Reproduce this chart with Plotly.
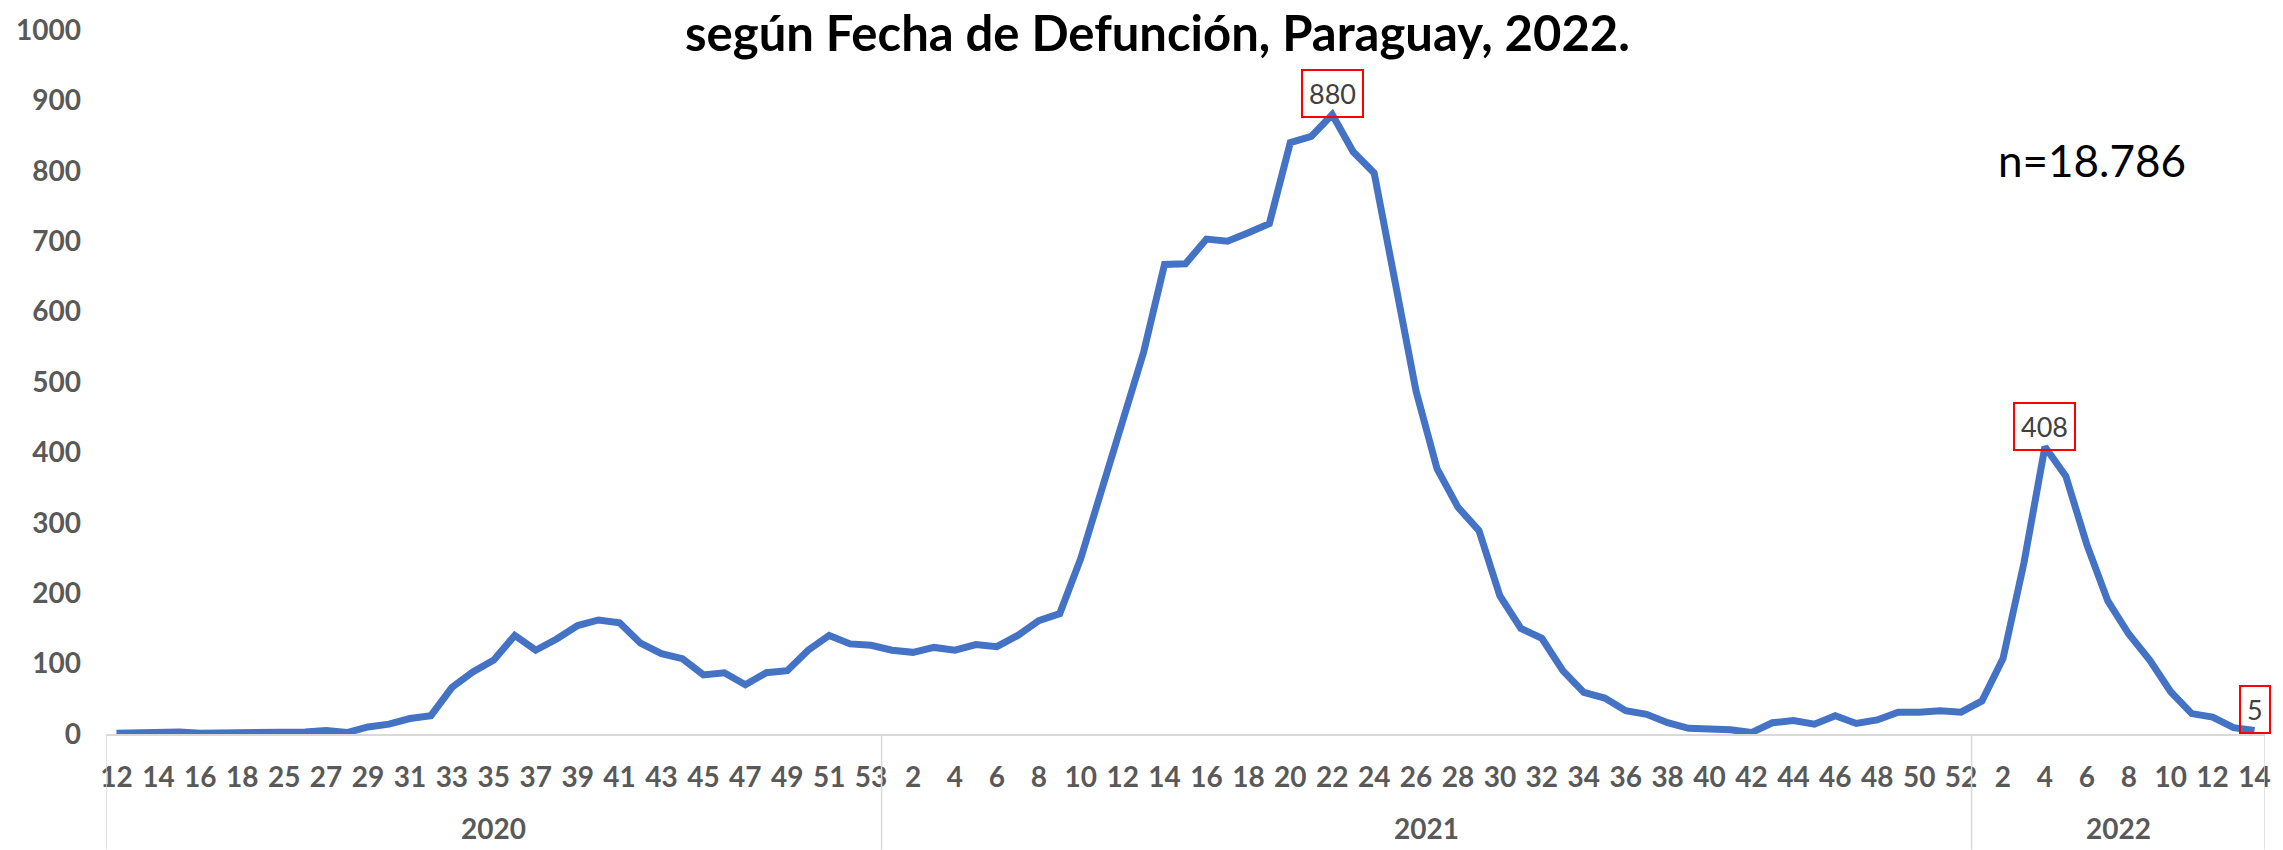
import plotly.graph_objects as go

# ---- data ----
weeks_2020 = [12, 13, 14, 15, 16, 17, 18, 24, 25, 26, 27, 28, 29, 30, 31, 32, 33, 34, 35, 36,
              37, 38, 39, 40, 41, 42, 43, 44, 45, 46, 47, 48, 49, 50, 51, 52, 53]
deaths_2020 = [1, 2, 1, 3, 1, 1, 1, 1, 2, 3, 5, 2, 10, 14, 22, 26, 66, 88, 105, 140,
               119, 135, 154, 162, 158, 129, 114, 107, 84, 87, 70, 87, 90, 119, 140, 128, 126]
weeks_2021 = list(range(1, 53))
deaths_2021 = [119, 116, 123, 119, 127, 124, 140, 161, 171, 249, 347, 441, 542, 667, 668, 703,
               700, 712, 725, 840, 849, 880, 827, 797, 645, 487, 377, 322, 289, 196, 150, 136,
               90, 59, 51, 33, 28, 16, 8, 7, 6, 2, 16, 19, 14, 26, 15, 20, 31, 31, 33, 31]
weeks_2022 = list(range(1, 15))
deaths_2022 = [47, 107, 243, 408, 366, 269, 189, 142, 105, 60, 29, 24, 9, 5]

years = ["2020", "2021", "2022"]
title_text = "según Fecha de Defunción, Paraguay, 2022."
n_text = "n=18.786"
labelled = [("2021", 22), ("2022", 4), ("2022", 14)]

# ---- build ----
groups = [(years[0], weeks_2020, deaths_2020), (years[1], weeks_2021, deaths_2021),
          (years[2], weeks_2022, deaths_2022)]
keys, vals, wk_of_key = [], [], []
for yr, wks, ds in groups:
    for w, d in zip(wks, ds):
        keys.append(f"{yr}-{w}")
        vals.append(d)
        wk_of_key.append(w)

tickvals = [k for i, k in enumerate(keys) if i % 2 == 0]
ticktext = [str(w) for i, w in enumerate(wk_of_key) if i % 2 == 0]

FONT = "Lato"
GREY = "#595959"

fig = go.Figure()
fig.add_trace(go.Scatter(x=keys, y=vals, mode="lines",
                         line=dict(color="#4472C4", width=7), hoverinfo="x+y"))

# data labels
val_of = dict(zip(keys, vals))
for yr, w in labelled:
    k = f"{yr}-{w}"
    fig.add_annotation(x=k, y=val_of[k], text=str(val_of[k]), showarrow=False,
                       xanchor="center", yanchor="bottom", yshift=-4,
                       font=dict(family=FONT, size=27, color="#404040"),
                       bordercolor="#FF0000", borderwidth=2, borderpad=6,
                       bgcolor="rgba(255,255,255,0)")

# year group labels and dividers
bounds = [-0.5]
for yr, wks, ds in groups:
    bounds.append(bounds[-1] + len(wks))
ybot = (734 - 850) / 705
for i, yr in enumerate(years):
    fig.add_annotation(x=(bounds[i] + bounds[i + 1]) / 2, y=(734 - 828) / 705,
                       xref="x", yref="paper", text=yr, showarrow=False,
                       yanchor="middle",
                       font=dict(family=FONT, size=28, color=GREY, weight="bold"))
for b in bounds:
    fig.add_shape(type="line", xref="x", yref="paper", x0=b, x1=b, y0=0, y1=ybot,
                  line=dict(color="#d9d9d9", width=1.5))

fig.add_annotation(xref="paper", yref="paper", x=0.92, y=(734 - 159) / 705,
                   text=n_text, showarrow=False, xanchor="center", yanchor="middle",
                   font=dict(family=FONT, size=44, color="#000000"))

fig.update_layout(
    width=2283, height=850,
    margin=dict(l=106, r=12, t=29, b=116),
    paper_bgcolor="white", plot_bgcolor="white",
    showlegend=False,
    title=dict(text=title_text, x=0.507, xref="container", xanchor="center",
               y=1 - 34 / 850, yanchor="middle", yref="container",
               font=dict(family=FONT, size=49, color="#000000", weight="bold")),
    xaxis=dict(type="category", range=[-0.5, len(keys) - 0.5],
               tickmode="array", tickvals=tickvals, ticktext=ticktext,
               showgrid=False, showline=True, linecolor="#d9d9d9", linewidth=2,
               ticks="", ticklabelstandoff=17, tickangle=0,
               tickfont=dict(family=FONT, size=28, color=GREY, weight="bold"),
               zeroline=False),
    yaxis=dict(range=[0, 1000], dtick=100, showgrid=False, showline=False, ticks="",
               zeroline=False, ticklabelstandoff=24,
               tickfont=dict(family=FONT, size=28, color=GREY, weight="bold")),
)

fig.write_html("out.html", config={"displayModeBar": False},
               post_script="document.body.style.margin='0';")
